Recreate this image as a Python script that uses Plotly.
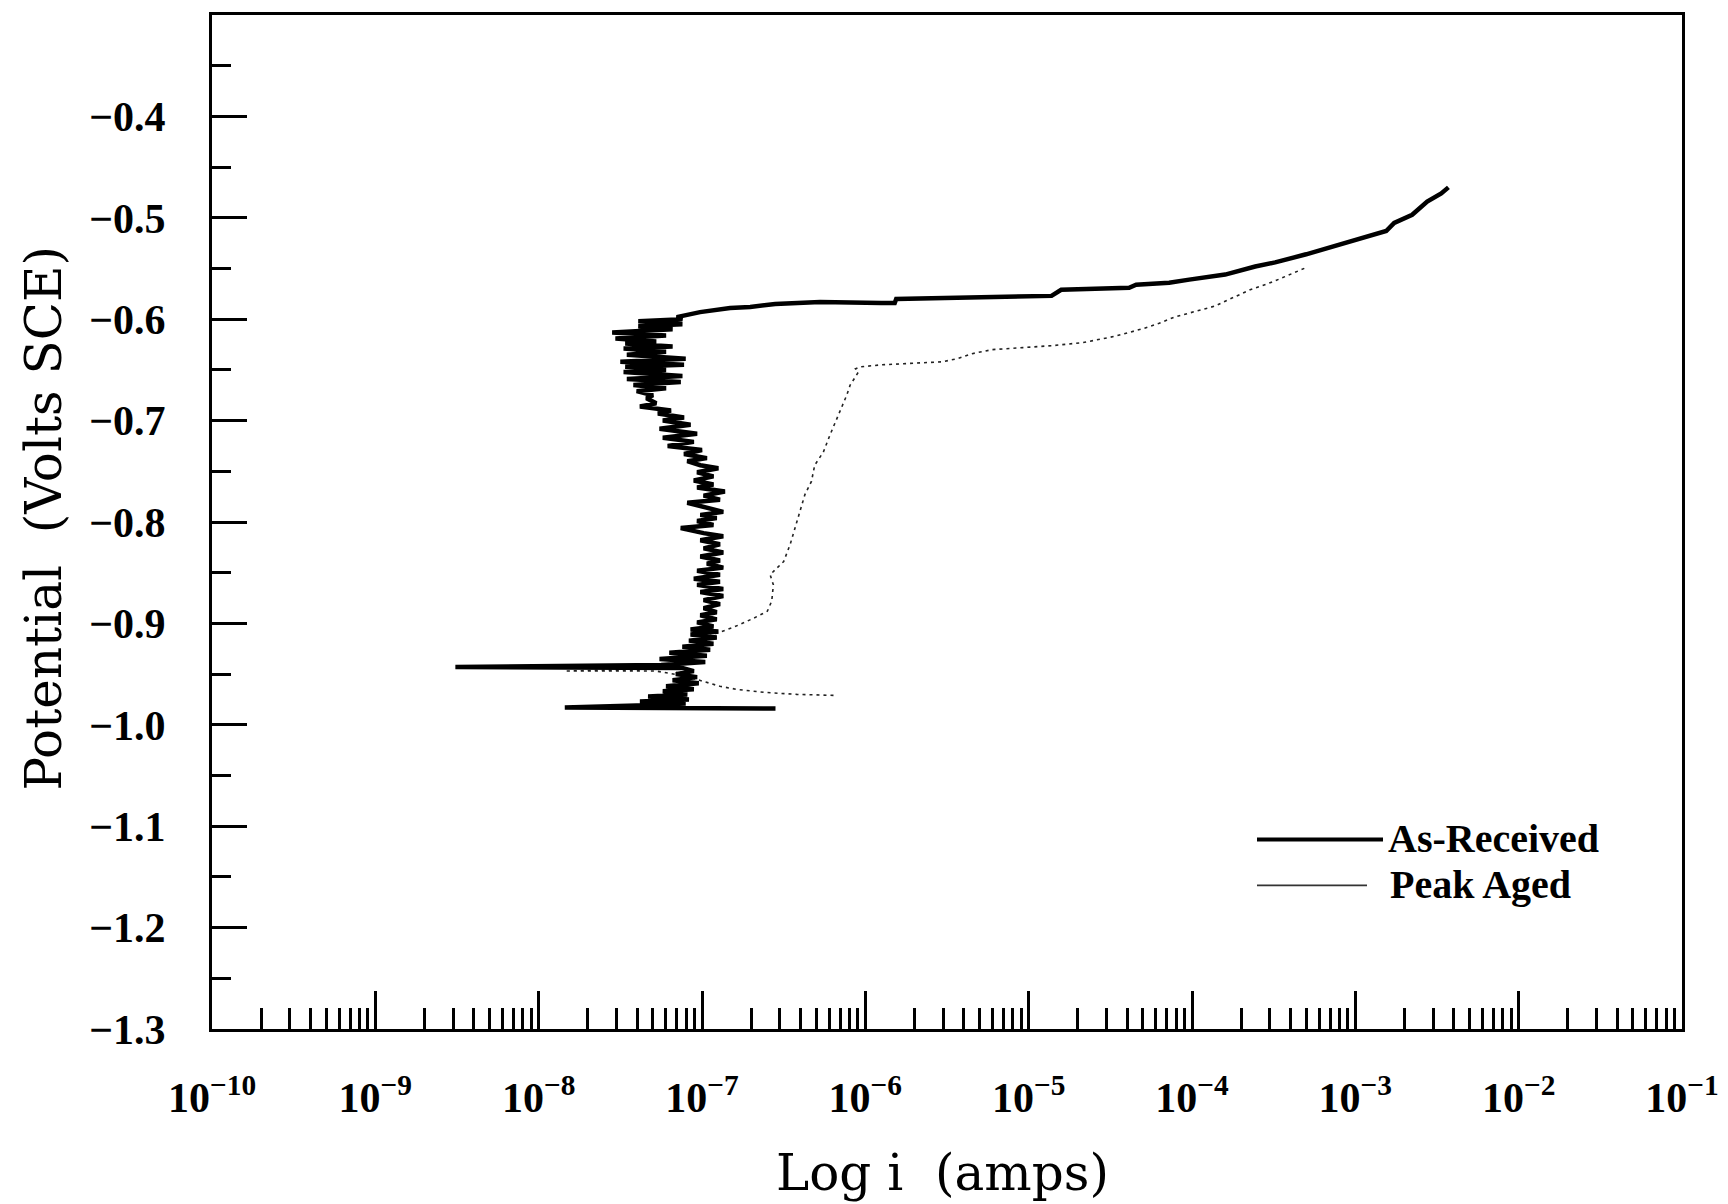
import plotly.graph_objects as go

# ---------------- data ----------------
# log10 of current (A) and potential (V vs SCE)
as_received_logi = [
    -6.55, -7.84, -7.40, -7.10, -7.38, -7.08, -7.33, -7.09, -7.24, -7.05,
    -7.22, -7.02, -7.18, -7.03, -7.16, -7.05, -7.12, -8.51, -7.25, -6.98,
    -7.26, -6.97, -7.20, -6.95, -7.12, -6.93, -7.08, -6.91, -7.07, -6.90,
    -7.07, -6.93, -7.03, -6.91, -7.01, -6.91, -6.99, -6.89, -6.99, -6.87,
    -7.01, -6.87, -7.03, -6.89, -7.05, -6.89, -7.03, -6.87, -6.97, -6.89,
    -7.01, -6.87, -6.99, -6.89, -7.01, -6.87, -6.99, -7.13, -6.93, -7.03,
    -6.91, -7.01, -6.87, -6.97, -7.09, -6.89, -6.99, -6.86, -7.03, -6.93,
    -7.05, -6.93, -7.03, -6.90, -7.01, -7.09, -6.97, -7.11, -7.00, -7.21,
    -7.05, -7.24, -7.03, -7.26, -7.07, -7.24, -7.11, -7.27, -7.19, -7.38,
    -7.28, -7.34, -7.30, -7.40, -7.22, -7.42, -7.13, -7.46, -7.12, -7.48,
    -7.22, -7.47, -7.11, -7.50, -7.10, -7.46, -7.22, -7.48, -7.18, -7.47,
    -7.28, -7.53, -7.22, -7.55, -7.18, -7.39, -7.12, -7.39, -7.12, -7.155,
    -7.012, -6.828, -6.705, -6.552, -6.277, -5.903, -5.820, -5.811, -4.860,
    -4.801, -4.385, -4.342, -4.140, -4.017, -3.797, -3.613, -3.491, -3.301,
    -3.117, -2.994, -2.811, -2.762, -2.652, -2.560, -2.474, -2.430,
]
as_received_v = [
    -0.984, -0.983, -0.981, -0.979, -0.977, -0.975, -0.972, -0.970, -0.967, -0.965,
    -0.962, -0.959, -0.956, -0.953, -0.950, -0.947, -0.944, -0.943, -0.941, -0.938,
    -0.935, -0.932, -0.929, -0.926, -0.923, -0.920, -0.917, -0.914, -0.911, -0.908,
    -0.906, -0.903, -0.899, -0.896, -0.892, -0.889, -0.885, -0.881, -0.877, -0.873,
    -0.869, -0.866, -0.862, -0.859, -0.856, -0.852, -0.848, -0.845, -0.841, -0.838,
    -0.834, -0.830, -0.826, -0.822, -0.818, -0.814, -0.811, -0.806, -0.803, -0.799,
    -0.796, -0.793, -0.790, -0.786, -0.781, -0.778, -0.774, -0.770, -0.766, -0.763,
    -0.759, -0.755, -0.751, -0.747, -0.744, -0.740, -0.737, -0.733, -0.729, -0.725,
    -0.721, -0.717, -0.713, -0.708, -0.704, -0.700, -0.697, -0.693, -0.690, -0.686,
    -0.683, -0.678, -0.675, -0.671, -0.668, -0.665, -0.662, -0.659, -0.656, -0.652,
    -0.650, -0.647, -0.645, -0.642, -0.639, -0.635, -0.632, -0.629, -0.627, -0.624,
    -0.622, -0.619, -0.616, -0.613, -0.610, -0.607, -0.605, -0.602, -0.600, -0.598,
    -0.593, -0.589, -0.588, -0.585, -0.583, -0.584, -0.584, -0.580, -0.577,
    -0.571, -0.569, -0.566, -0.564, -0.561, -0.556, -0.548, -0.544, -0.536,
    -0.527, -0.522, -0.513, -0.505, -0.497, -0.484, -0.476, -0.470,
]

peak_aged_logi = [
    -6.195, -6.42, -6.62, -6.79, -6.89, -6.97, -7.10, -7.28, -7.84, -7.30,
    -7.10, -7.00, -7.02, -6.95, -6.88, -6.81, -6.685, -6.60, -6.573, -6.563,
    -6.583, -6.50, -6.46, -6.43, -6.40, -6.37, -6.33, -6.31, -6.257, -6.216,
    -6.114, -6.093, -6.042, -6.06, -6.03, -5.903, -5.53, -5.438, -5.346, -5.224,
    -5.034, -4.85, -4.666, -4.476, -4.293, -4.201, -4.109, -3.858, -3.766, -3.644,
    -3.503, -3.35, -3.30,
]
peak_aged_v = [
    -0.971, -0.970, -0.968, -0.965, -0.962, -0.958, -0.952, -0.947, -0.947, -0.945,
    -0.938, -0.928, -0.918, -0.912, -0.908, -0.904, -0.895, -0.888, -0.878, -0.862,
    -0.852, -0.839, -0.822, -0.806, -0.790, -0.773, -0.760, -0.744, -0.731, -0.714,
    -0.675, -0.665, -0.652, -0.649, -0.647, -0.645, -0.642, -0.639, -0.634, -0.630,
    -0.628, -0.626, -0.623, -0.617, -0.609, -0.604, -0.598, -0.587, -0.580, -0.571,
    -0.563, -0.552, -0.549,
]

x_tick_exponents = [-10, -9, -8, -7, -6, -5, -4, -3, -2, -1]
y_tick_values = [-1.3, -1.2, -1.1, -1.0, -0.9, -0.8, -0.7, -0.6, -0.5, -0.4]
y_tick_labels = ["\u22121.3", "\u22121.2", "\u22121.1", "\u22121.0", "\u22120.9",
                 "\u22120.8", "\u22120.7", "\u22120.6", "\u22120.5", "\u22120.4"]
series_names = ["As-Received", "Peak Aged"]

# ---------------- figure ----------------
# page body has an 8px margin, so the figure is shrunk to stay in the window
OFF = 8
W, H = 1728 - OFF, 1204 - OFF
PLOT_X0, PLOT_X1, PLOT_Y0, PLOT_Y1 = 212, 1682, 12, 1029   # window pixels
L, T = PLOT_X0 - OFF, PLOT_Y0 - OFF
R = W - (PLOT_X1 - OFF)
B = H - (PLOT_Y1 - OFF)
PW, PH = PLOT_X1 - PLOT_X0, PLOT_Y1 - PLOT_Y0


def px_x(p):
    return (p - PLOT_X0) / PW


def px_y(p):
    return (PLOT_Y1 - p) / PH


fig = go.Figure()
fig.add_trace(go.Scatter(
    x=[10 ** v for v in peak_aged_logi], y=peak_aged_v, mode="lines",
    name=series_names[1], line=dict(color="#222222", width=1.6, dash="3px,4px"),
    showlegend=False))
fig.add_trace(go.Scatter(
    x=[10 ** v for v in as_received_logi], y=as_received_v, mode="lines",
    name=series_names[0], line=dict(color="black", width=4.5),
    showlegend=False))

minor_x = [m * 10 ** e for e in x_tick_exponents[:-1] for m in range(2, 10)]

tick_font = dict(family="Liberation Serif", size=42, color="black", weight="bold")
title_font = dict(family="DejaVu Serif", size=50, color="black")

fig.update_xaxes(
    type="log", range=[-10, -1],
    tickmode="array",
    tickvals=[10 ** e for e in x_tick_exponents],
    ticktext=["10<sup>\u2212%d</sup>" % (-e) for e in x_tick_exponents],
    ticks="inside", ticklen=38, tickwidth=3, tickcolor="black",
    minor=dict(tickmode="array", tickvals=minor_x, ticks="inside",
               ticklen=21, tickwidth=3, tickcolor="black", showgrid=False),
    showline=True, linewidth=3, linecolor="black", mirror=True,
    showgrid=False, zeroline=False, tickfont=tick_font,
    ticklabelstandoff=30,
)
fig.update_yaxes(
    range=[-1.3, -0.3],
    tickmode="array", tickvals=y_tick_values, ticktext=y_tick_labels,
    ticks="inside", ticklen=35, tickwidth=3, tickcolor="black",
    minor=dict(dtick=0.05, tick0=-1.3, ticks="inside", ticklen=19,
               tickwidth=3, tickcolor="black", showgrid=False),
    showline=True, linewidth=3, linecolor="black", mirror=True,
    showgrid=False, zeroline=False, tickfont=tick_font,
    ticklabelstandoff=35,
)

legend_font = dict(family="Liberation Serif", size=40, color="black", weight="bold")
annotations = [
    dict(text="Potential  (Volts SCE)", xref="paper", yref="paper",
         x=px_x(44), y=px_y(517), textangle=-90, showarrow=False,
         xanchor="center", yanchor="middle", font=title_font),
    dict(text="Log i  (amps)", xref="paper", yref="paper",
         x=px_x(942), y=px_y(1173), showarrow=False,
         xanchor="center", yanchor="middle", font=title_font),
    dict(text=series_names[0], xref="paper", yref="paper",
         x=px_x(1386), y=px_y(838), showarrow=False,
         xanchor="left", yanchor="middle", font=legend_font),
    dict(text=series_names[1], xref="paper", yref="paper",
         x=px_x(1388), y=px_y(884), showarrow=False,
         xanchor="left", yanchor="middle", font=legend_font),
]
shapes = [
    dict(type="line", xref="paper", yref="paper",
         x0=px_x(1257), x1=px_x(1383), y0=px_y(839), y1=px_y(839),
         line=dict(color="black", width=4)),
    dict(type="line", xref="paper", yref="paper",
         x0=px_x(1257), x1=px_x(1367), y0=px_y(885), y1=px_y(885),
         line=dict(color="#333333", width=1.6)),
]

fig.update_layout(
    width=W, height=H, autosize=False,
    margin=dict(l=L, r=R, t=T, b=B, pad=0),
    paper_bgcolor="white", plot_bgcolor="white",
    annotations=annotations, shapes=shapes, showlegend=False,
)

fig.write_html("out.html")
